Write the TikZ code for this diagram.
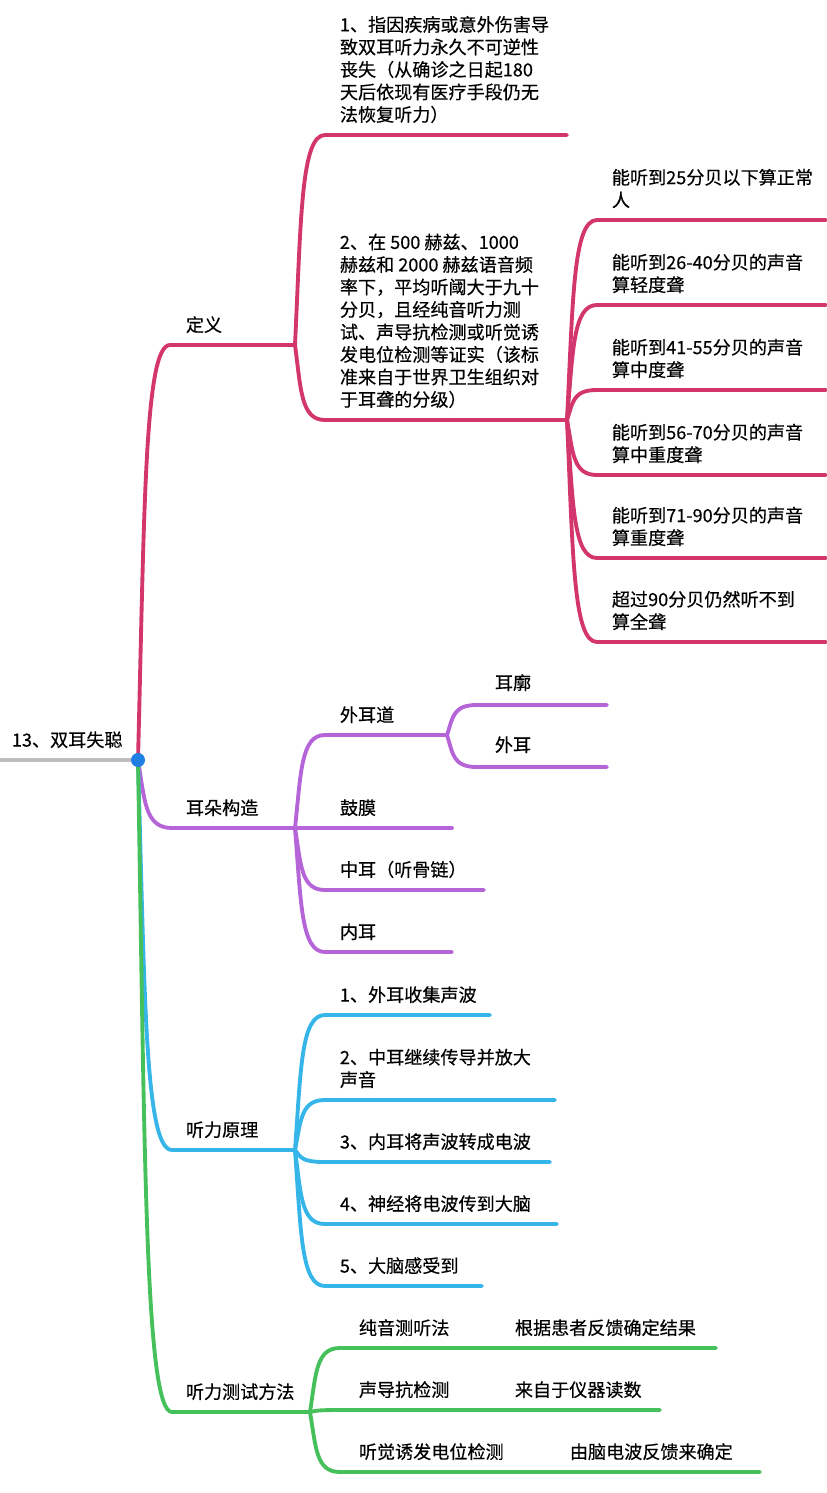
\documentclass[tikz,border=0pt]{standalone}
\usepackage{fontspec}
\setmainfont{Noto Sans CJK SC}[FakeBold=0.4]
\usetikzlibrary{calc}
\definecolor{defc}{HTML}{D2366C}
\definecolor{earc}{HTML}{B565D8}
\definecolor{hearc}{HTML}{36B5E8}
\definecolor{testc}{HTML}{45C05B}
\definecolor{rootc}{HTML}{BDBDBD}
\definecolor{dotc}{HTML}{1F80E2}
% curved branch from parent point to child start, then the underline
\newcommand{\branch}[4]{%
  \draw[#1] let \p1=(#2), \p2=(#3) in (\p1) .. controls
    (\x1+0.2*\x2-0.2*\x1, \y1+0.6*\y2-0.6*\y1) and (\x1+0.2*\x2-0.2*\x1, \y2) .. (\p2) -- (#4);}
\begin{document}
\begin{tikzpicture}[x=0.02cm,y=-0.02cm,
  every path/.style={line width=2.2pt,line cap=round},
  lbl/.style={anchor=south west,inner sep=0pt,align=left,font=\fontsize{10.3}{12.8}\selectfont}]
\useasboundingbox (0,0) rectangle (826,1493);
% root
\coordinate (root) at (138,760);
\draw[rootc] (0,760) -- (root);
\node[lbl] (roott) at (10,750) {13、双耳失聪};
% first level
\coordinate (def) at (170,345);  \coordinate (defe) at (295,345);
\coordinate (ear) at (172,828);  \coordinate (eare) at (295,828);
\coordinate (hear) at (172,1150); \coordinate (heare) at (295,1150);
\coordinate (test) at (172,1412); \coordinate (teste) at (310,1412);
\branch{defc}{root}{def}{defe}
\branch{earc}{root}{ear}{eare}
\branch{hearc}{root}{hear}{heare}
\branch{testc}{root}{test}{teste}
\node[lbl] (deft) at (184,335) {定义};
\node[lbl] (eart) at (184,818) {耳朵构造};
\node[lbl] (heart) at (184,1140) {听力原理};
\node[lbl] (testt) at (184,1402) {听力测试方法};
% definition
\coordinate (d1) at (325,135); \coordinate (d1e) at (567,135);
\coordinate (d2) at (325,420); \coordinate (d2e) at (567,420);
\branch{defc}{defe}{d1}{d1e}
\branch{defc}{defe}{d2}{d2e}
\node[lbl] (d1t) at (338,125) {1、指因疾病或意外伤害导\\致双耳听力永久不可逆性\\丧失（从确诊之日起180\\天后依现有医疗手段仍无\\法恢复听力）};
\node[lbl] (d2t) at (338,410) {2、在 500 赫兹、1000\\赫兹和 2000 赫兹语音频\\率下，平均听阈大于九十\\分贝，且经纯音听力测\\试、声导抗检测或听觉诱\\发电位检测等证实（该标\\准来自于世界卫生组织对\\于耳聋的分级）};
\foreach \y/\t [count=\i] in {220/{能听到25分贝以下算正常\\人},305/{能听到26-40分贝的声音\\算轻度聋},390/{能听到41-55分贝的声音\\算中度聋},475/{能听到56-70分贝的声音\\算中重度聋},558/{能听到71-90分贝的声音\\算重度聋},642/{超过90分贝仍然听不到\\算全聋}}{
  \coordinate (lv\i) at (597,\y); \coordinate (lv\i e) at (826,\y);
  \branch{defc}{d2e}{lv\i}{lv\i e}
  \node[lbl] (lv\i t) at (610,\y-10) {\t};
}
% ear structure
\coordinate (e1) at (325,735); \coordinate (e1e) at (447,735);
\branch{earc}{eare}{e1}{e1e}
\node[lbl] (e1t) at (338,725) {外耳道};
\foreach \y/\xe/\t [count=\i from 2] in {828/452/鼓膜,890/484/中耳（听骨链）,952/452/内耳}{
  \coordinate (e\i) at (325,\y); \coordinate (e\i e) at (\xe,\y);
  \branch{earc}{eare}{e\i}{e\i e}
  \node[lbl] (e\i t) at (338,\y-10) {\t};
}
\foreach \y/\t [count=\i] in {705/耳廓,767/外耳}{
  \coordinate (o\i) at (477,\y); \coordinate (o\i e) at (607,\y);
  \branch{earc}{e1e}{o\i}{o\i e}
  \node[lbl] (o\i t) at (493,\y-12) {\t};
}
% hearing principle
\foreach \y/\xe/\t [count=\i] in {1015/490/1、外耳收集声波,1100/555/{2、中耳继续传导并放大\\声音},1162/550/3、内耳将声波转成电波,1224/557/4、神经将电波传到大脑,1286/482/5、大脑感受到}{
  \coordinate (h\i) at (325,\y); \coordinate (h\i e) at (\xe,\y);
  \branch{hearc}{heare}{h\i}{h\i e}
  \node[lbl] (h\i t) at (338,\y-10) {\t};
}
% test methods
\foreach \y/\xe/\a/\xb/\b [count=\i] in {1348/716/纯音测听法/513/根据患者反馈确定结果,1410/660/声导抗检测/513/来自于仪器读数,1472/760/听觉诱发电位检测/568/由脑电波反馈来确定}{
  \coordinate (t\i) at (340,\y); \coordinate (t\i e) at (\xe,\y);
  \branch{testc}{teste}{t\i}{t\i e}
  \node[lbl] (t\i a) at (357,\y-10) {\a};
  \node[lbl] (t\i b) at (\xb,\y-10) {\b};
}
\fill[dotc] (root) circle[radius=7];
\end{tikzpicture}
\end{document}
